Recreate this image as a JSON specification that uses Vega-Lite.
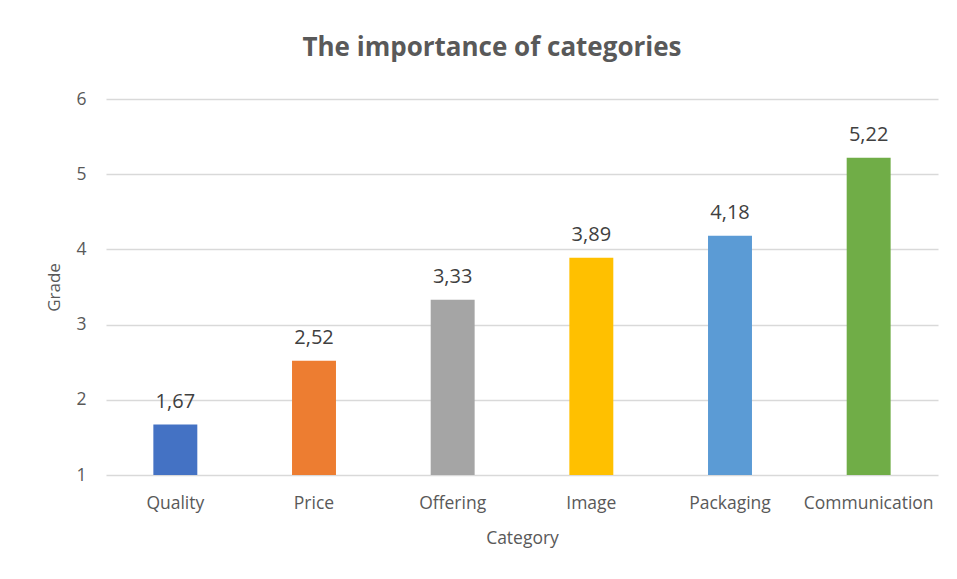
{
  "$schema": "https://vega.github.io/schema/vega-lite/v6.json",
  "autosize": "none",
  "width": 832,
  "height": 376,
  "padding": {"left": 106, "top": 99, "right": 19, "bottom": 104},
  "background": "white",
  "title": {
    "text": "The importance of categories",
    "fontSize": 26,
    "fontWeight": "bold",
    "color": "#595959",
    "font": "Open Sans",
    "offset": 29,
    "anchor": "middle",
    "frame": "bounds"
  },
  "config": {
    "locale": {"number": {"decimal": ",", "thousands": ".", "grouping": [3], "currency": ["", " €"]}},
    "view": {"stroke": null},
    "font": "Open Sans"
  },
  "data": {
    "values": [
      {"Category": "Quality", "Grade": 1.67},
      {"Category": "Price", "Grade": 2.52},
      {"Category": "Offering", "Grade": 3.33},
      {"Category": "Image", "Grade": 3.89},
      {"Category": "Packaging", "Grade": 4.18},
      {"Category": "Communication", "Grade": 5.22}
    ]
  },
  "encoding": {
    "x": {
      "field": "Category",
      "type": "nominal",
      "sort": null,
      "scale": {"paddingInner": 0.683, "paddingOuter": 0.3415},
      "axis": {
        "labelAngle": 0,
        "labelFontSize": 17.5,
        "labelColor": "#595959",
        "labelPadding": 19,
        "domain": false,
        "ticks": false,
        "titleFontSize": 17.5,
        "titleFontWeight": "normal",
        "titleColor": "#595959",
        "titlePadding": 18
      }
    }
  },
  "layer": [
    {
      "mark": {"type": "bar"},
      "encoding": {
        "y": {
          "field": "Grade",
          "type": "quantitative",
          "scale": {"domain": [1, 6], "zero": false, "nice": false},
          "axis": {
            "values": [1, 2, 3, 4, 5, 6],
            "format": "d",
            "labelFontSize": 17.5,
            "labelColor": "#595959",
            "labelPadding": 20,
            "domain": false,
            "ticks": false,
            "gridColor": "#D9D9D9",
            "gridWidth": 1.3,
            "titleFontSize": 17,
            "titleFontWeight": "normal",
            "titleColor": "#595959",
            "titlePadding": 12
          }
        },
        "y2": {"datum": 1},
        "color": {
          "field": "Category",
          "type": "nominal",
          "sort": null,
          "legend": null,
          "scale": {
            "domain": ["Quality", "Price", "Offering", "Image", "Packaging", "Communication"],
            "range": ["#4472C4", "#ED7D31", "#A5A5A5", "#FFC000", "#5B9BD5", "#70AD47"]
          }
        }
      }
    },
    {
      "mark": {"type": "text", "baseline": "bottom", "dy": -13, "fontSize": 20, "color": "#404040"},
      "encoding": {
        "y": {"field": "Grade", "type": "quantitative"},
        "text": {"field": "Grade", "type": "quantitative", "format": ".2f"}
      }
    }
  ]
}
